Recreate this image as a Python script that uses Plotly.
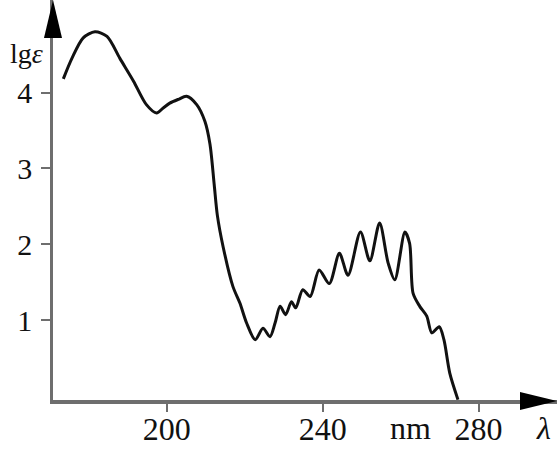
import plotly.graph_objects as go

INK = "#111111"
AXIS_GRAY = "#6e6e6e"
SERIF = "Liberation Serif, Times New Roman, serif"

# wavelength (nm) and lg(epsilon)
wavelength = [173.5, 175.7, 178.6, 181.6, 184.7, 188.0, 191.5, 194.8, 197.4, 199.2,
              200.8, 203.0, 205.1, 207.7, 209.8, 211.1, 212.2, 213.0, 214.5, 217.0,
              218.8, 220.5, 222.7, 224.7, 226.5, 227.8, 229.1, 230.5, 232.0, 233.1,
              234.9, 236.8, 239.1, 241.7, 244.3, 246.5, 249.7, 252.1, 254.6, 256.8,
              258.5, 261.1, 262.3, 263.2, 264.9, 266.7, 268.0, 269.9, 271.1, 272.6,
              274.7]
lg_eps = [4.18, 4.45, 4.72, 4.80, 4.74, 4.45, 4.15, 3.84, 3.73, 3.80,
          3.86, 3.91, 3.95, 3.84, 3.62, 3.32, 2.78, 2.38, 1.96, 1.44,
          1.22, 0.96, 0.74, 0.89, 0.78, 0.96, 1.18, 1.07, 1.24, 1.16,
          1.40, 1.31, 1.66, 1.48, 1.88, 1.59, 2.16, 1.78, 2.28, 1.75,
          1.53, 2.16, 2.01, 1.35, 1.18, 1.05, 0.83, 0.91, 0.74, 0.30,
          -0.05]

x_ticks = [200, 240, 280]
y_ticks = [1, 2, 3, 4]

fig = go.Figure()
fig.add_trace(go.Scatter(
    x=wavelength, y=lg_eps, mode="lines",
    line=dict(color=INK, width=3, shape="spline", smoothing=0.8),
    showlegend=False, hoverinfo="skip",
))

fig.update_layout(
    width=560, height=452,
    paper_bgcolor="white", plot_bgcolor="white",
    margin=dict(l=53, r=3, t=0, b=52, autoexpand=False),
    font=dict(family=SERIF, size=30, color=INK),
)
fig.update_xaxes(
    range=[170.85, 300.1], tickvals=x_ticks, ticktext=[str(v) for v in x_ticks],
    showgrid=False, zeroline=False, showline=True, linecolor=AXIS_GRAY, linewidth=3.5,
    ticks="outside", ticklen=8, tickwidth=2, tickcolor=AXIS_GRAY, automargin=False,
    tickfont=dict(size=32), ticklabelstandoff=-10,
)
fig.update_yaxes(
    range=[-0.055, 5.22], tickvals=y_ticks, ticktext=[str(v) for v in y_ticks],
    showgrid=False, zeroline=False, showline=True, linecolor=AXIS_GRAY, linewidth=2.5,
    ticks="outside", ticklen=9, tickwidth=2, tickcolor=AXIS_GRAY, automargin=False,
    ticklabelstandoff=3,
)

# arrow heads on both axes (paper fractions of the 504x400 plot area)
fig.add_shape(type="path", xref="paper", yref="paper",
              path="M 0,1 L -0.0179,0.905 L 0.0179,0.905 Z",
              fillcolor="black", line=dict(width=0))
fig.add_shape(type="path", xref="paper", yref="paper",
              path="M 1,-0.0025 L 0.9266,0.02 L 0.9266,-0.025 Z",
              fillcolor="black", line=dict(width=0))

fig.add_annotation(text="lg<i>ε</i>", xref="paper", x=0, xanchor="right", xshift=-8,
                   yref="y", y=4.52, showarrow=False,
                   font=dict(family=SERIF, size=28, color=INK))
fig.add_annotation(text="nm", xref="x", x=280, xanchor="right", xshift=-46,
                   yref="paper", y=0, yanchor="middle", yshift=-28, showarrow=False,
                   font=dict(size=32))
fig.add_annotation(text="<i>λ</i>", xref="paper", x=1, xanchor="right", xshift=-4,
                   yref="paper", y=0, yanchor="middle", yshift=-28, showarrow=False,
                   font=dict(size=32))

fig.write_html("out.html", config={"displayModeBar": False},
               post_script="document.body.style.margin='0';")
